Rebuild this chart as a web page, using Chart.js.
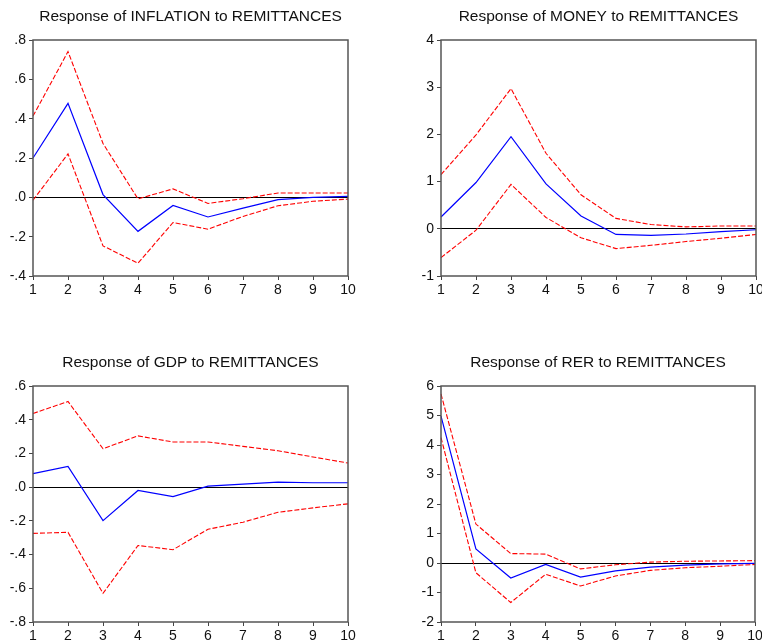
<!DOCTYPE html>
<html>
<head>
<meta charset="utf-8">
<script src="https://cdn.jsdelivr.net/npm/chart.js@4"></script>
<style>
  body { margin: 0; background: #fff; width: 762px; height: 643px; position: relative; overflow: hidden; }
  .box { position: absolute; width: 381px; height: 297px; }
</style>
</head>
<body>
<div class="box" style="left:0;top:0"><canvas id="c1"></canvas></div>
<div class="box" style="left:381px;top:0"><canvas id="c2"></canvas></div>
<div class="box" style="left:0;top:346px"><canvas id="c3"></canvas></div>
<div class="box" style="left:381px;top:346px"><canvas id="c4"></canvas></div>
<script>
// horizon periods
const periods = ['1', '2', '3', '4', '5', '6', '7', '8', '9', '10'];

// INFLATION
const inflationResp  = [0.20, 0.478, 0.014, -0.173, -0.041, -0.100, -0.055, -0.012, 0.000, 0.005];
const inflationUpper = [0.413, 0.741, 0.274, -0.008, 0.043, -0.031, -0.007, 0.022, 0.022, 0.022];
const inflationLower = [-0.015, 0.221, -0.247, -0.335, -0.128, -0.162, -0.097, -0.043, -0.020, -0.009];

// MONEY
const moneyResp  = [0.25, 0.98, 1.95, 0.95, 0.27, -0.12, -0.14, -0.11, -0.06, -0.02];
const moneyUpper = [1.15, 1.99, 2.97, 1.60, 0.72, 0.22, 0.09, 0.04, 0.06, 0.06];
const moneyLower = [-0.61, -0.03, 0.94, 0.24, -0.19, -0.42, -0.35, -0.27, -0.20, -0.12];

// GDP
const gdpResp  = [0.080, 0.123, -0.199, -0.020, -0.056, 0.006, 0.018, 0.030, 0.026, 0.026];
const gdpUpper = [0.437, 0.508, 0.228, 0.304, 0.268, 0.268, 0.242, 0.216, 0.179, 0.143];
const gdpLower = [-0.274, -0.268, -0.630, -0.346, -0.371, -0.250, -0.208, -0.149, -0.123, -0.099];

// RER
const rerResp  = [4.98, 0.48, -0.51, -0.05, -0.48, -0.27, -0.14, -0.07, -0.03, -0.01];
const rerUpper = [5.73, 1.32, 0.32, 0.30, -0.20, -0.06, 0.03, 0.06, 0.07, 0.08];
const rerLower = [4.25, -0.33, -1.34, -0.38, -0.78, -0.44, -0.25, -0.16, -0.11, -0.05];

const titles = [
  'Response of INFLATION to REMITTANCES',
  'Response of MONEY to REMITTANCES',
  'Response of GDP to REMITTANCES',
  'Response of RER to REMITTANCES'
];
const yMins  = [-0.4, -1, -0.8, -2];
const yMaxs  = [0.8, 4, 0.6, 6];
const ySteps = [0.2, 1, 0.2, 1];

const FONT = "'Liberation Sans', Arial, sans-serif";

const framePlugin = {
  id: 'frame',
  afterDraw(chart) {
    const a = chart.chartArea, ctx = chart.ctx;
    ctx.save();
    ctx.strokeStyle = '#555';
    ctx.lineWidth = 1.5;
    ctx.strokeRect(a.left, a.top, a.right - a.left, a.bottom - a.top);
    ctx.restore();
  }
};

function fmtTick(v, step) {
  if (Math.abs(v) < 1e-9) v = 0;
  if (step >= 1) return String(Math.round(v));
  let s = v.toFixed(1);
  return s.replace('0.', '.');
}

function makePanel(id, idx, resp, upper, lower, axisWidth, padRight) {
  const step = ySteps[idx];
  new Chart(document.getElementById(id), {
    type: 'line',
    data: {
      labels: periods,
      datasets: [
        { data: upper, borderColor: '#ff0000', borderWidth: 1.1, borderDash: [5, 2], pointRadius: 0, fill: false, tension: 0 },
        { data: lower, borderColor: '#ff0000', borderWidth: 1.1, borderDash: [5, 2], pointRadius: 0, fill: false, tension: 0 },
        { data: resp, borderColor: '#0000ff', borderWidth: 1.2, pointRadius: 0, fill: false, tension: 0 }
      ]
    },
    options: {
      responsive: true,
      maintainAspectRatio: false,
      animation: false,
      layout: { padding: { left: 0, right: padRight, top: 0, bottom: 0 } },
      plugins: {
        legend: { display: false },
        tooltip: { enabled: false },
        title: {
          display: true,
          text: titles[idx],
          fullSize: false,
          color: '#111',
          font: { family: FONT, size: 15.5, weight: 'normal', lineHeight: 1.2 },
          padding: { top: 7, bottom: 14.4 }
        }
      },
      scales: {
        x: {
          offset: false,
          grid: { drawOnChartArea: false, drawTicks: true, tickLength: 4, color: '#444' },
          border: { display: false },
          ticks: { color: '#111', font: { family: FONT, size: 14 }, padding: 2, maxRotation: 0, autoSkip: false },
          afterFit(s) { s.height = 21; s.paddingLeft = 0; s.paddingRight = 0; }
        },
        y: {
          min: yMins[idx],
          max: yMaxs[idx],
          grid: {
            drawOnChartArea: true,
            drawTicks: true,
            tickLength: 4,
            tickColor: '#444',
            color: ctx => (ctx.tick && Math.abs(ctx.tick.value) < 1e-9) ? '#000' : 'rgba(0,0,0,0)',
            lineWidth: 1
          },
          border: { display: false },
          ticks: {
            stepSize: step,
            color: '#111',
            font: { family: FONT, size: 14 },
            padding: 3,
            callback: v => fmtTick(v, step)
          },
          afterFit(s) { s.width = axisWidth; s.paddingTop = 0; s.paddingBottom = 0; }
        }
      }
    },
    plugins: [framePlugin]
  });
}

makePanel('c1', 0, inflationResp, inflationUpper, inflationLower, 33, 33);
makePanel('c2', 1, moneyResp, moneyUpper, moneyLower, 60, 6);
makePanel('c3', 2, gdpResp, gdpUpper, gdpLower, 33, 33);
makePanel('c4', 3, rerResp, rerUpper, rerLower, 60, 7);
</script>
</body>
</html>
